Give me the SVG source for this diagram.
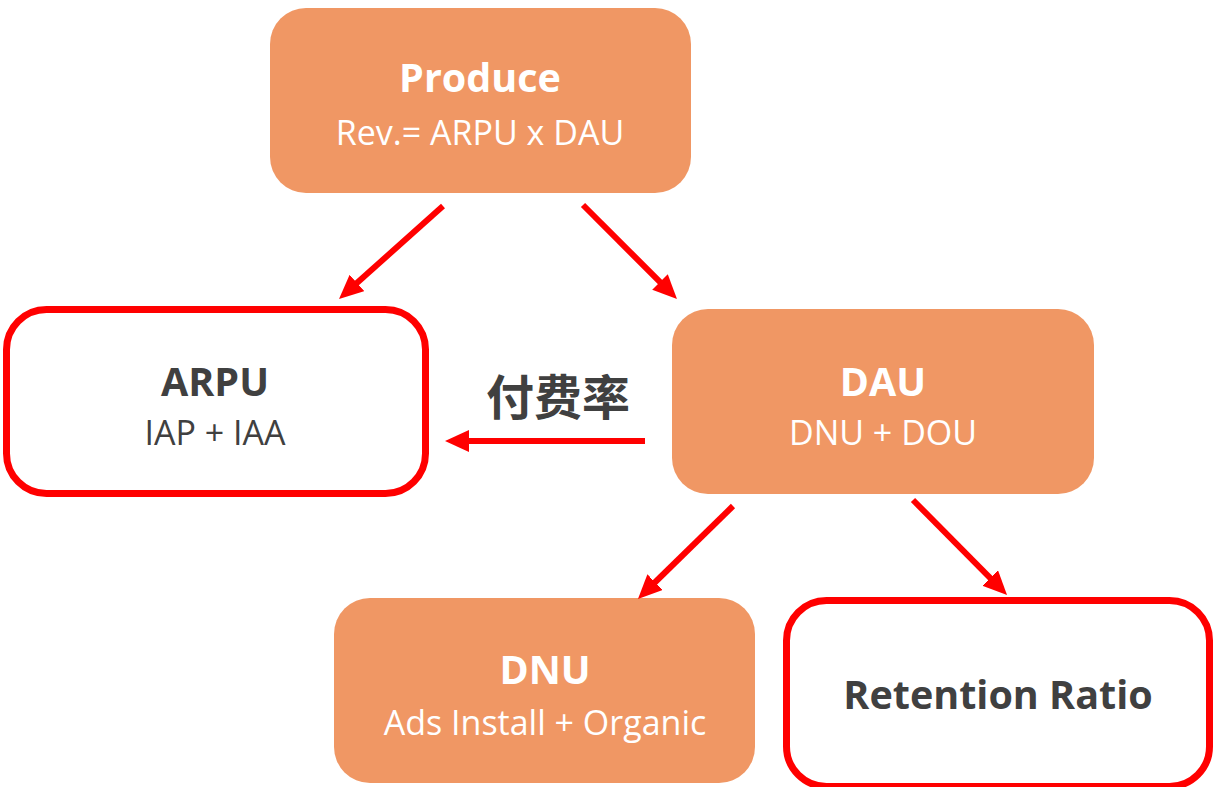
<svg xmlns="http://www.w3.org/2000/svg" width="1216" height="787" viewBox="0 0 1216 787">
<style>
.fill{fill:#F09764;}
.out{fill:#FFFFFF;stroke:#FF0000;stroke-width:7;}
.t{font-family:"Open Sans","Noto Sans",sans-serif;text-anchor:middle;}
.b{font-weight:bold;font-size:39.5px;}
.r{font-size:34px;}
.w{fill:#FFFFFF;}
.d{fill:#404040;}
.arr{stroke:#FF0000;stroke-width:6;fill:none;marker-end:url(#ah);}
</style>
<defs>
<marker id="ah" markerUnits="userSpaceOnUse" markerWidth="24" markerHeight="22" refX="14" refY="11" orient="auto">
<path d="M0,0 L24,11 L0,22 z" fill="#FF0000"/>
</marker>
</defs>
<rect width="1216" height="787" fill="#FFFFFF"/>
<g id="produce">
<rect class="fill" x="270" y="8" width="421" height="185" rx="36"/>
<text class="t b w" x="480" y="92">Produce</text>
<text class="t r w" x="480" y="145">Rev.= ARPU x DAU</text>
</g>
<g id="arpu">
<rect class="out" x="6.5" y="309.5" width="419" height="184" rx="40"/>
<text class="t b d" x="215" y="396">ARPU</text>
<text class="t r d" x="215" y="445">IAP + IAA</text>
</g>
<g id="dau">
<rect class="fill" x="672" y="309" width="422" height="185" rx="36"/>
<text class="t b w" x="883" y="396">DAU</text>
<text class="t r w" x="883" y="445">DNU + DOU</text>
</g>
<g id="dnu">
<rect class="fill" x="334" y="598" width="421" height="185" rx="36"/>
<text class="t b w" x="545" y="684">DNU</text>
<text class="t r w" x="545" y="735">Ads Install + Organic</text>
</g>
<g id="retention">
<rect class="out" x="786.5" y="600.5" width="423" height="186" rx="40"/>
<text class="t b d" x="998" y="709">Retention Ratio</text>
</g>
<g id="label">
<text class="t d" x="558" y="415" style="font-family:'Noto Sans CJK SC',sans-serif;font-weight:bold;font-size:48px;">付费率</text>
</g>
<g id="connectors">
<line class="arr" x1="443" y1="206" x2="346.5" y2="292.3"/>
<line class="arr" x1="583" y1="205" x2="669.9" y2="291.9"/>
<line class="arr" x1="645" y1="441" x2="455" y2="441"/>
<line class="arr" x1="733" y1="506" x2="645.1" y2="592"/>
<line class="arr" x1="913" y1="500" x2="1000" y2="587.9"/>
</g>
</svg>
